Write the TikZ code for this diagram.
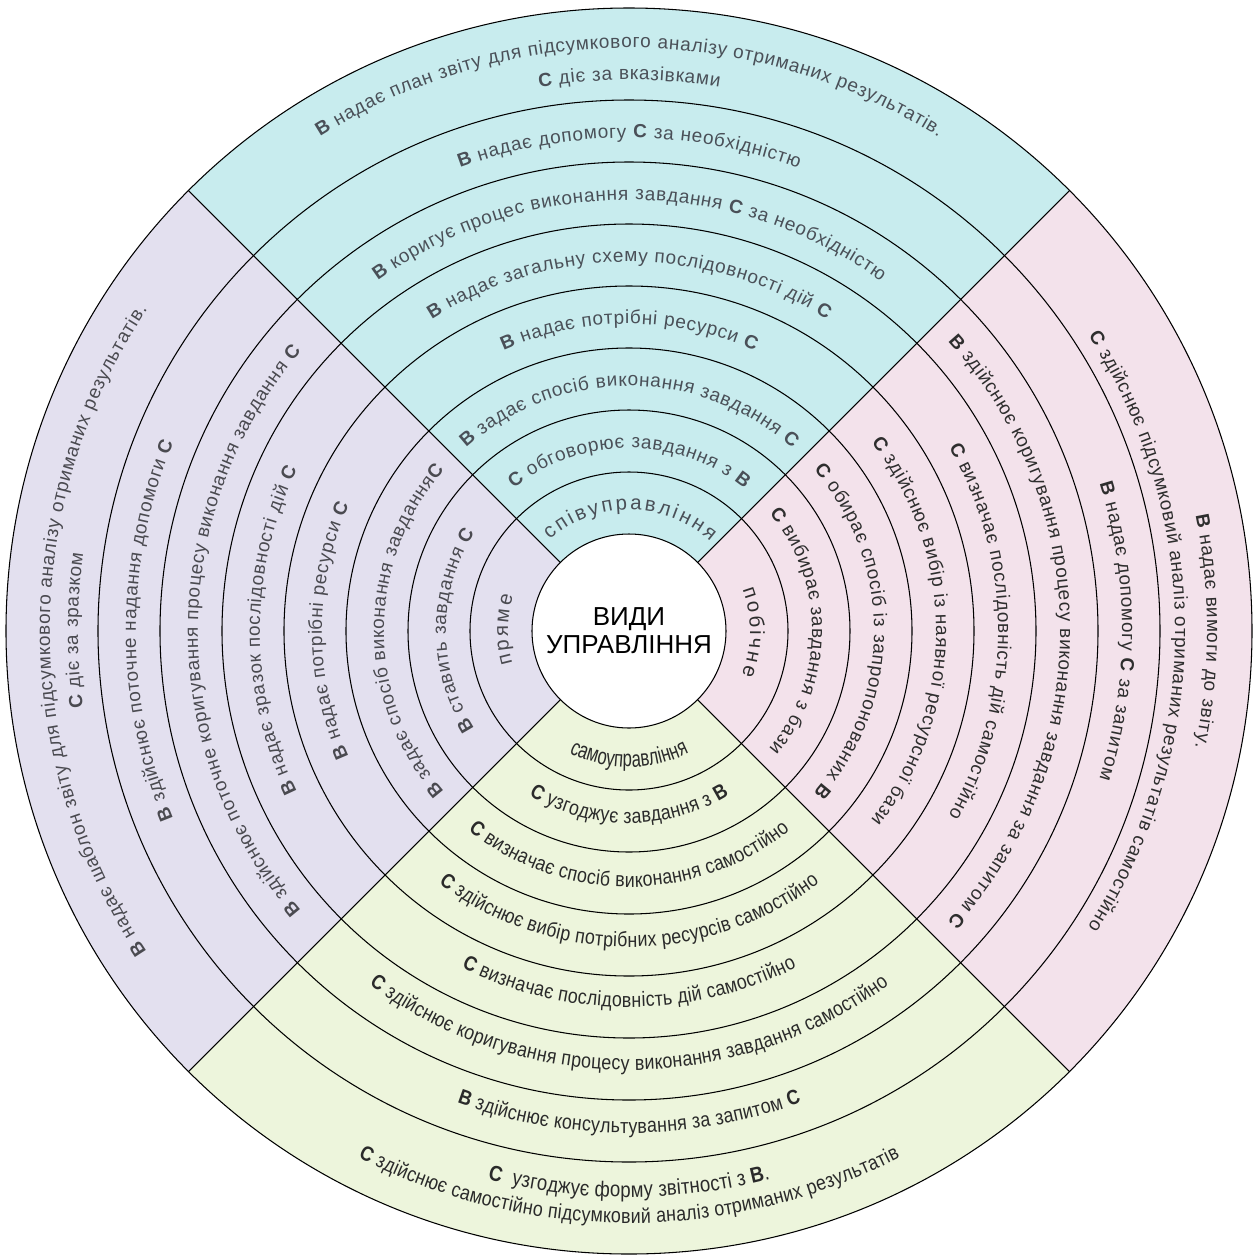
\documentclass[tikz,border=0pt]{standalone}
\usepackage{fontspec}
\setmainfont{Liberation Sans}
\newfontfamily\narrowfont[FakeStretch=0.86]{Liberation Sans}
\newfontfamily\condfont[FakeStretch=0.72]{Liberation Sans}
\usetikzlibrary{decorations.text}

\definecolor{coopfill}{HTML}{C8ECEE}
\definecolor{directfill}{HTML}{E3E0EF}
\definecolor{sidefill}{HTML}{F3E2EB}
\definecolor{selffill}{HTML}{EDF5DC}
\definecolor{coopink}{HTML}{4A5058}
\definecolor{directink}{HTML}{4A4A50}
\definecolor{sideink}{HTML}{2E2E2E}
\definecolor{selfink}{HTML}{2A2A2A}

% letter tracking inside arc texts
\newlength\tk
\newcommand\tm{\kern\tk\mdseries}
\newcommand\tb{\kern\tk\bfseries}

\newcommand\ringfont{\fontsize{10.8}{13}\selectfont\setlength\tk{0.4pt}}
\newcommand\wordfont{\fontsize{11.6}{13}\selectfont\setlength\tk{1.5pt}}
\newcommand\selffont{\narrowfont\fontsize{11.8}{13}\selectfont\setlength\tk{0.15pt}}

% text along an arc: #1 font, #2 colour, #3 radius, #4 middle angle, #5 text
% \cwtext runs clockwise (letters outward), \ccwtext anticlockwise (letters inward)
\newcommand\cwtext[5]{{#1\path[decorate,decoration={text along path,text align=center,
  text color=#2,text={|\tm|#5}}] ({#4+80}:#3) arc[start angle={#4+80},end angle={#4-80},radius=#3];}}
\newcommand\ccwtext[5]{{#1\path[decorate,decoration={text along path,text align=center,
  text color=#2,text={|\tm|#5}}] ({#4-80}:#3) arc[start angle={#4-80},end angle={#4+80},radius=#3];}}

\begin{document}
\begin{tikzpicture}[line width=0.6pt]
  \useasboundingbox (-12.58,-12.48) rectangle (12.60,12.62);
  % quarters
  \fill[coopfill] (0,0) -- (45:12.46) arc[start angle=45, end angle=135, radius=12.46] -- cycle;
  \fill[directfill] (0,0) -- (135:12.46) arc[start angle=135, end angle=225, radius=12.46] -- cycle;
  \fill[selffill] (0,0) -- (225:12.46) arc[start angle=225, end angle=315, radius=12.46] -- cycle;
  \fill[sidefill] (0,0) -- (-45:12.46) arc[start angle=-45, end angle=45, radius=12.46] -- cycle;
  % rings and dividers
  \foreach \r in {3.18,4.42,5.66,6.90,8.14,9.38,10.62,12.46}
    \draw (0,0) circle[radius=\r];
  \foreach \a in {45,135,225,315}
    \draw (\a:1.94) -- (\a:12.46);
  \node[circle, draw, fill=white, minimum size=3.88cm, inner sep=0pt, align=center,
    font=\fontsize{14.8}{16}\selectfont] (centre) at (0,0) {ВИДИ\\УПРАВЛІННЯ};

  % top: співуправління
  \cwtext{\wordfont}{coopink}{2.42}{90}{співуправління}
  \cwtext{\ringfont}{coopink}{3.66}{90}{|\tb|С|\tm| обговорює завдання з |\tb|В}
  \cwtext{\ringfont}{coopink}{4.90}{90}{|\tb|В|\tm| задає спосіб виконання завдання |\tb|С}
  \cwtext{\ringfont}{coopink}{6.14}{90}{|\tb|В|\tm| надає потрібні ресурси |\tb|С}
  \cwtext{\ringfont}{coopink}{7.38}{90}{|\tb|В|\tm| надає загальну схему послідовності дій |\tb|С}
  \cwtext{\ringfont}{coopink}{8.62}{90}{|\tb|В|\tm| коригує процес виконання завдання |\tb|С|\tm| за необхідністю}
  \cwtext{\ringfont}{coopink}{9.86}{90}{|\tb|В|\tm| надає допомогу |\tb|С|\tm| за необхідністю}
  \cwtext{\ringfont}{coopink}{11.66}{90}{|\tb|В|\tm| надає план звіту для підсумкового аналізу отриманих результатів.}
  \cwtext{\ringfont}{coopink}{11.02}{90}{|\tb|С|\tm| діє за вказівками}

  % left: пряме
  \cwtext{\wordfont}{directink}{2.42}{180}{пряме}
  \cwtext{\ringfont}{directink}{3.66}{180}{|\tb|В|\tm| ставить завдання |\tb|С}
  \cwtext{\ringfont}{directink}{4.90}{180}{|\tb|В|\tm| задає спосіб виконання завдання|\tb|С}
  \cwtext{\ringfont}{directink}{6.14}{180}{|\tb|В|\tm| надає потрібні ресурси |\tb|С}
  \cwtext{\ringfont}{directink}{7.38}{180}{|\tb|В|\tm| надає зразок послідовності дій |\tb|С}
  \cwtext{\ringfont}{directink}{8.62}{180}{|\tb|В|\tm| здійснює поточне коригування процесу виконання завдання |\tb|С}
  \cwtext{\ringfont}{directink}{9.86}{180}{|\tb|В|\tm| здійснює поточне надання допомоги |\tb|С}
  \cwtext{\ringfont}{directink}{11.58}{180}{|\tb|В|\tm| надає шаблон звіту для підсумкового аналізу отриманих результатів.}
  \cwtext{\ringfont}{directink}{11.02}{180}{|\tb|С|\tm| діє за зразком}

  % right: побічне
  \cwtext{\wordfont}{sideink}{2.42}{0}{побічне}
  \cwtext{\ringfont}{sideink}{3.66}{0}{|\tb|С|\tm| вибирає завдання з бази}
  \cwtext{\ringfont}{sideink}{4.90}{0}{|\tb|С|\tm| обирає спосіб із запропонованих |\tb|В}
  \cwtext{\ringfont}{sideink}{6.14}{0}{|\tb|С|\tm| здійснює вибір із наявної ресурсної бази}
  \cwtext{\ringfont}{sideink}{7.38}{0}{|\tb|С|\tm| визначає послідовність дій самостійно}
  \cwtext{\ringfont}{sideink}{8.62}{0}{|\tb|В|\tm| здійснює коригування процесу виконання завдання за запитом |\tb|С}
  \cwtext{\ringfont}{sideink}{9.86}{0}{|\tb|В|\tm| надає допомогу |\tb|С|\tm| за запитом}
  \cwtext{\ringfont}{sideink}{11.56}{0}{|\tb|В|\tm| надає вимоги до звіту.}
  \cwtext{\ringfont}{sideink}{10.92}{0}{|\tb|С|\tm| здійснює підсумковий аналіз отриманих результатів самостійно}

  % bottom: самоуправління
  \ccwtext{\condfont\fontsize{13.2}{14}\selectfont\setlength\tk{0pt}}{selfink}{2.72}{270}{самоуправління}
  \ccwtext{\selffont}{selfink}{3.84}{270}{|\tb|С|\tm| узгоджує завдання з |\tb|В}
  \ccwtext{\selffont}{selfink}{5.12}{270}{|\tb|С|\tm| визначає спосіб виконання самостійно}
  \ccwtext{\selffont}{selfink}{6.32}{270}{|\tb|С|\tm| здійснює вибір потрібних ресурсів самостійно}
  \ccwtext{\selffont}{selfink}{7.52}{270}{|\tb|С|\tm| визначає послідовність дій самостійно}
  \ccwtext{\selffont}{selfink}{8.78}{270}{|\tb|С|\tm| здійснює коригування процесу виконання завдання самостійно}
  \ccwtext{\selffont}{selfink}{10.04}{270}{|\tb|В|\tm| здійснює консультування за запитом |\tb|С}
  \ccwtext{\narrowfont\fontsize{12.3}{14}\selectfont\setlength\tk{0.1pt}}{selfink}{11.32}{270}{|\tb|С|\tm| \ узгоджує форму звітності з |\tb|В|\tm|.}
  \ccwtext{\selffont}{selfink}{11.84}{270}{|\tb|С|\tm| здійснює самостійно підсумковий аналіз отриманих результатів}
\end{tikzpicture}
\end{document}
